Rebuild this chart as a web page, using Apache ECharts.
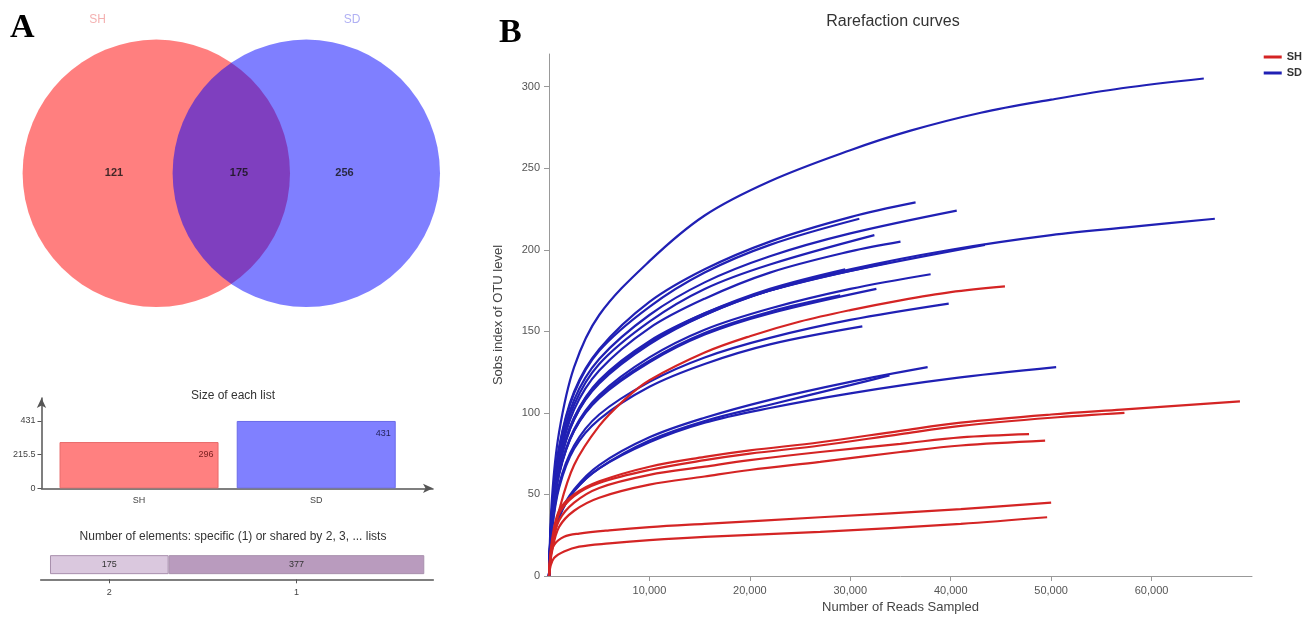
<!DOCTYPE html>
<html>
<head>
<meta charset="utf-8">
<script src="https://cdn.jsdelivr.net/npm/echarts/dist/echarts.min.js"></script>
<style>
html,body{margin:0;padding:0;background:#fff;}
#c{width:1311px;height:625px;}
</style>
</head>
<body>
<div id="c"></div>
<script>
// ---------------- DATA ----------------
// Panel A: Venn
const vennSets = ['SH', 'SD'];
const vennCounts = [121, 175, 256];          // SH only, shared, SD only
const listSizes = [296, 431];                 // size of each list
const listTicks = [0, 215.5, 431];
const sharedCounts = [175, 377];              // shared by 2, specific (1)
const sharedLabels = ['2', '1'];

// Panel B: rarefaction curves  [reads, Sobs]
const xTicks = [10000, 20000, 30000, 40000, 50000, 60000];
const yTicks = [0, 50, 100, 150, 200, 250, 300];

const sdCurves = [
  [[0,0],[300,48],[1000,88],[2500,128],[5000,160],[10000,193],[15500,221],[22000,242],[30000,261],[36000,273],[43000,284],[50000,292],[57000,299],[65200,305]],
  [[0,0],[300,41],[1000,79],[2500,113],[5000,139],[10000,168],[15500,188],[22000,205],[30000,220],[36500,229]],
  [[0,0],[300,41],[1000,78],[2500,112],[5000,138],[10000,165],[15500,186],[22000,203],[30900,219]],
  [[0,0],[300,39],[1000,75],[2500,108],[5000,133],[10000,160],[15500,180],[22000,196],[30000,210],[40600,224]],
  [[0,0],[300,38],[1000,74],[2500,105],[5000,130],[10000,156],[15500,176],[22000,191],[32400,209]],
  [[0,0],[300,37],[1000,71],[2500,102],[5000,126],[10000,152],[15500,170],[22000,186],[30000,199],[35000,205]],
  [[0,0],[300,35],[1000,67],[2500,96],[5000,118],[10000,142],[15500,160],[22000,175],[30000,188],[40000,200],[50000,209],[58000,214],[66300,219]],
  [[0,0],[300,35],[1000,68],[2500,97],[5000,119],[10000,143],[15500,161],[22000,175],[30000,187],[43400,203]],
  [[0,0],[300,35],[1000,67],[2500,96],[5000,119],[10000,143],[15500,160],[22000,175],[33700,192]],
  [[0,0],[300,36],[1000,68],[2500,97],[5000,120],[10000,144],[15500,161],[22000,176],[29500,188]],
  [[0,0],[300,33],[1000,63],[2500,90],[5000,111],[10000,134],[15500,151],[22000,164],[30000,176],[38000,185]],
  [[0,0],[300,32],[1000,62],[2500,89],[5000,109],[10000,131],[15500,148],[22000,161],[32600,176]],
  [[0,0],[300,33],[1000,63],[2500,89],[5000,110],[10000,132],[15500,149],[22000,162],[29000,172]],
  [[0,0],[300,29],[1000,56],[2500,80],[5000,99],[10000,119],[15500,134],[22000,146],[30000,157],[39800,167]],
  [[0,0],[300,28],[1000,54],[2500,78],[5000,96],[10000,116],[15500,130],[22000,142],[31200,153]],
  [[0,0],[300,20],[1000,37],[2500,53],[5000,68],[10000,85],[15500,97],[22000,108],[30000,119],[37700,128]],
  [[0,0],[300,19],[1000,36],[2500,52],[5000,66],[10000,82],[15500,94],[22000,103],[30000,112],[40000,121],[50500,128]],
  [[0,0],[300,19],[1000,36],[2500,52],[5000,66],[10000,83],[15500,95],[22000,105],[30000,117],[33900,123]]
];

const shCurves = [
  [[0,0],[300,18],[1000,40],[2500,68],[5000,92],[7500,108],[10000,120],[15500,137],[20000,147],[25000,156],[30000,163],[35000,169],[40000,174],[45400,177.5]],
  [[0,0],[300,22],[1000,40],[2500,50],[5000,58],[10000,67],[15500,73],[20000,77],[27000,82],[35000,89],[41000,94],[50000,99],[57000,102],[68800,107]],
  [[0,0],[300,20],[1000,38],[2500,49],[5000,57],[10000,65],[15500,71],[20000,75],[27000,80],[35000,87],[41000,92],[50000,97],[57300,100]],
  [[0,0],[300,18],[1000,34],[2500,45],[5000,54],[10000,62],[15500,67],[20000,71],[27000,76],[35000,81],[41000,85],[47800,87]],
  [[0,0],[300,15],[1000,30],[2500,40],[5000,48],[10000,56],[15500,61],[20000,65],[27000,70],[35000,76],[41000,80],[49400,83]],
  [[0,0],[150,12],[500,19],[1500,24],[3000,26],[6000,28],[10000,30],[15500,32],[27000,36],[41000,41],[50000,45]],
  [[0,0],[150,6],[500,11],[1500,15],[3000,18],[6000,20],[10000,22],[15500,24],[27000,27],[41000,32],[49600,36]]
];

// ---------------- LAYOUT / STYLE ----------------
const FONT = 'Liberation Sans, Arial, sans-serif';
const vennCircleLayout = [[1.343, 1.337, 1.337], [2.843, 1.337, 1.337]]; // cx, cy, r in venn-grid units
const vennCountPos = [[0.92, 1.34], [2.17, 1.34], [3.225, 1.34]];
const vennNamePos = [[0.755, 2.87], [3.30, 2.87]];
const vennFill = ['rgba(255,0,0,0.5)', 'rgba(0,0,255,0.5)'];
const vennNameColor = ['#f09c9c', '#9c9cf0'];
const barFill = ['#ff8080', '#8080ff'];
const barBorder = ['#e86a6a', '#6a6ae8'];
const barLabelColor = ['#7a2020', '#23235e'];
const sharedFill = ['#dac8de', '#b99bbe'];
const RED = '#d42424';
const BLUE = '#2020b4';

// midpoints of stacked shared bar
const sharedMid = [];
let acc = 0;
sharedCounts.forEach(v => { sharedMid.push(acc + v / 2); acc += v; });

const chart = echarts.init(document.getElementById('c'), null, {renderer: 'canvas'});

const series = [];
// Venn circles
series.push({
  type: 'custom', xAxisIndex: 0, yAxisIndex: 0, silent: true,
  data: vennCircleLayout.map((c, i) => [c[0], c[1], c[2], i]),
  renderItem: (params, api) => {
    const p = api.coord([api.value(0), api.value(1)]);
    const r = api.size([api.value(2), 0])[0];
    return {type: 'circle', shape: {cx: p[0], cy: p[1], r: r},
            style: {fill: vennFill[api.value(3)]}};
  }
});
// Venn counts
series.push({
  type: 'scatter', xAxisIndex: 0, yAxisIndex: 0, symbolSize: 0, silent: true, z: 5,
  data: vennCounts.map((v, i) => ({value: [vennCountPos[i][0], vennCountPos[i][1], v]})),
  label: {show: true, position: 'inside', formatter: p => String(p.value[2]),
          fontFamily: FONT, fontSize: 11, fontWeight: 'bold', color: '#111'}
});
// Venn set names
series.push({
  type: 'scatter', xAxisIndex: 0, yAxisIndex: 0, symbolSize: 0, silent: true,
  data: vennSets.map((n, i) => ({value: [vennNamePos[i][0], vennNamePos[i][1]], name: n,
        label: {color: vennNameColor[i]}})),
  label: {show: true, position: 'inside', formatter: p => p.name,
          fontFamily: FONT, fontSize: 12}
});
// Size of each list
series.push({
  type: 'bar', xAxisIndex: 1, yAxisIndex: 1, barWidth: 159, silent: true,
  data: listSizes.map((v, i) => ({value: [i + 1, v],
        itemStyle: {color: barFill[i], borderColor: barBorder[i], borderWidth: 1},
        label: {color: barLabelColor[i]}})),
  label: {show: true, position: 'insideTopRight', formatter: p => String(p.value[1]),
          fontFamily: FONT, fontSize: 9, offset: [0, 3]}
});
// Shared element bar
sharedCounts.forEach((v, i) => {
  series.push({
    type: 'bar', xAxisIndex: 2, yAxisIndex: 2, stack: 'shared', barWidth: 19, silent: true,
    data: [v],
    itemStyle: {color: sharedFill[i], borderColor: '#a890ad', borderWidth: 1},
    label: {show: true, position: 'inside', fontFamily: FONT, fontSize: 9, color: '#333'}
  });
});
// Rarefaction curves
const lineBase = {type: 'line', xAxisIndex: 3, yAxisIndex: 3, showSymbol: false, symbol: 'none',
                  smooth: 0.35, silent: true};
sdCurves.forEach(c => series.push(Object.assign({}, lineBase, {name: 'SD', data: c,
  color: BLUE, lineStyle: {color: BLUE, width: 2.2}})));
shCurves.forEach(c => series.push(Object.assign({}, lineBase, {name: 'SH', data: c,
  color: RED, lineStyle: {color: RED, width: 2.2}})));

const option = {
  animation: false,
  backgroundColor: '#fff',
  textStyle: {fontFamily: FONT},
  legend: {
    data: ['SH', 'SD'], orient: 'vertical', right: 9, top: 51, itemWidth: 18, itemHeight: 3,
    itemGap: 4, padding: 0, icon: 'rect',
    textStyle: {fontFamily: FONT, fontSize: 11, fontWeight: 'bold', color: '#333', lineHeight: 12}
  },
  graphic: [
    {type: 'text', x: 10, y: 11, style: {text: 'A', font: 'bold 34px "Liberation Serif", serif', fill: '#000'}},
    {type: 'text', x: 499, y: 16, style: {text: 'B', font: 'bold 34px "Liberation Serif", serif', fill: '#000'}},
    {type: 'text', x: 893, y: 22, style: {text: 'Rarefaction curves', font: '16px ' + FONT, fill: '#333',
      textAlign: 'center', textVerticalAlign: 'middle'}},
    {type: 'text', x: 233, y: 396, style: {text: 'Size of each list', font: '12px ' + FONT, fill: '#333',
      textAlign: 'center', textVerticalAlign: 'middle'}},
    {type: 'text', x: 233, y: 537, style: {text: 'Number of elements: specific (1) or shared by 2, 3, ... lists',
      font: '12px ' + FONT, fill: '#333', textAlign: 'center', textVerticalAlign: 'middle'}}
  ],
  grid: [
    {left: 22, top: 7, width: 418, height: 300},
    {left: 41.5, top: 398, width: 391.5, height: 90.3},
    {left: 40.7, top: 550, width: 392.6, height: 29.3},
    {left: 549, top: 54, width: 703, height: 522}
  ],
  xAxis: [
    {gridIndex: 0, type: 'value', min: 0, max: 4.18, show: false},
    {gridIndex: 1, type: 'value', min: 0.4495, max: 2.659, splitLine: {show: false},
     axisLine: {show: true, onZero: false, symbol: ['none', 'arrow'], symbolSize: [7, 10],
                lineStyle: {color: '#555', width: 1.5}},
     axisTick: {show: false},
     axisLabel: {customValues: [1, 2], formatter: v => vennSets[Math.round(v) - 1],
                 fontFamily: FONT, fontSize: 9, color: '#444', margin: 8}},
    {gridIndex: 2, type: 'value', min: -13.7, max: 565.3, splitLine: {show: false},
     axisLine: {show: true, onZero: false, lineStyle: {color: '#555', width: 1.5}},
     axisTick: {show: true, customValues: sharedMid, length: 4, lineStyle: {color: '#555'}},
     axisLabel: {customValues: sharedMid, formatter: v => {
                   const i = sharedMid.findIndex(m => Math.abs(m - v) < 1e-6);
                   return i >= 0 ? sharedLabels[i] : '';
                 }, fontFamily: FONT, fontSize: 9, color: '#444', margin: 9}},
    {gridIndex: 3, type: 'value', min: 0, max: 70000, splitLine: {show: false},
     axisLine: {show: true, onZero: false, lineStyle: {color: '#999', width: 1}},
     axisTick: {show: true, customValues: xTicks, length: 5, lineStyle: {color: '#999'}},
     axisLabel: {customValues: xTicks, formatter: v => v.toLocaleString('en-US'),
                 fontFamily: FONT, fontSize: 11, color: '#555', margin: 9},
     name: 'Number of Reads Sampled', nameLocation: 'middle', nameGap: 25,
     nameTextStyle: {fontFamily: FONT, fontSize: 13, color: '#444'}}
  ],
  yAxis: [
    {gridIndex: 0, type: 'value', min: 0, max: 3, show: false},
    {gridIndex: 1, type: 'value', min: 0, max: 578, splitLine: {show: false},
     axisLine: {show: true, symbol: ['none', 'arrow'], symbolSize: [7, 10],
                lineStyle: {color: '#555', width: 1.5}},
     axisTick: {show: true, customValues: listTicks, length: 4, lineStyle: {color: '#555'}},
     axisLabel: {customValues: listTicks, formatter: v => String(v),
                 fontFamily: FONT, fontSize: 9, color: '#444', margin: 6}},
    {gridIndex: 2, type: 'category', data: ['n'], show: false},
    {gridIndex: 3, type: 'value', min: 0, max: 320, splitLine: {show: false},
     axisLine: {show: true, lineStyle: {color: '#999', width: 1}},
     axisTick: {show: true, customValues: yTicks, length: 5, lineStyle: {color: '#999'}},
     axisLabel: {customValues: yTicks, fontFamily: FONT, fontSize: 11, color: '#555', margin: 9},
     name: 'Sobs index of OTU level', nameLocation: 'middle', nameGap: 44, nameRotate: 90,
     nameTextStyle: {fontFamily: FONT, fontSize: 13, color: '#444'}}
  ],
  series: series
};
chart.setOption(option);
</script>
</body>
</html>
